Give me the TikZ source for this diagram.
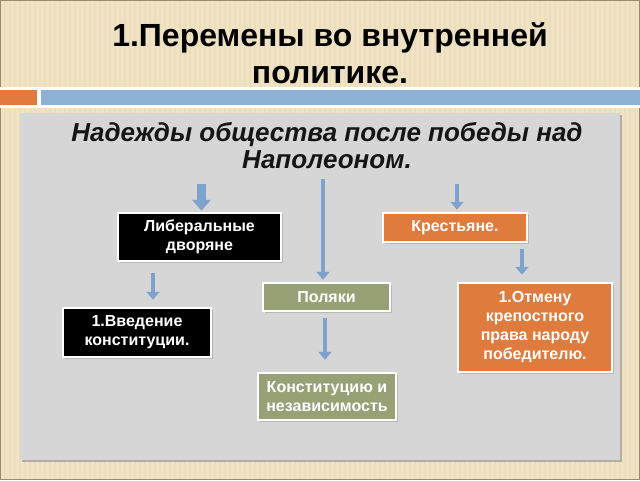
\documentclass[tikz,border=0pt]{standalone}
\usepackage{fontspec}
\setmainfont{Liberation Sans}
\usetikzlibrary{arrows.meta,calc,shadows}
\definecolor{beige}{HTML}{F0E3C4}
\definecolor{stripe}{HTML}{ECDEBD}
\definecolor{frameline}{HTML}{9C8A6A}
\definecolor{panelgray}{HTML}{D6D6D6}
\definecolor{barorange}{HTML}{E07A3E}
\definecolor{barblue}{HTML}{8DB0D4}
\definecolor{boxorange}{HTML}{E07B3E}
\definecolor{boxolive}{HTML}{98A176}
\definecolor{arrowblue}{HTML}{7FA2CC}
\definecolor{subtext}{HTML}{151515}
\tikzset{
  boxbase/.style={draw=gray!55, double=white, double distance=1.6pt, line width=0.5pt,
    inner sep=0pt, align=center, text=white, font=\bfseries\fontsize{16}{19}\selectfont,
    drop shadow={opacity=0.35, shadow xshift=1.5pt, shadow yshift=-1.5pt}},
  blackbox/.style={boxbase, fill=black},
  orangebox/.style={boxbase, fill=boxorange},
  olivebox/.style={boxbase, fill=boxolive},
  barrow/.style={draw=arrowblue, line width=4pt,
    -{Triangle[width=13pt,length=8pt]}},
  bigarrow/.style={draw=arrowblue, line width=9pt,
    -{Triangle[width=18pt,length=11pt]}},
}
\begin{document}
\begin{tikzpicture}[x=1pt,y=-1pt]
\useasboundingbox (0,0) rectangle (640,480);
% background
\fill[beige] (0,0) rectangle (640,480);
\foreach \i in {0,5,...,640} \draw[stripe, line width=1.2pt] (\i,0) -- (\i,480);
\draw[frameline, line width=1pt] (0.5,0.5) rectangle (639.5,479.5);
% bars
\fill[white] (0,87) rectangle (640,108);
\fill[barorange] (0,90) rectangle (37,105);
\fill[barblue] (41,90) rectangle (640,105);
% panel
\fill[black!45, opacity=0.6] (22,115) rectangle (622,462);
\fill[panelgray] (20,113) rectangle (620,460);
% title
\node (title) at (330,53) [align=center, font=\bfseries\fontsize{32}{37}\selectfont]
  {1.Перемены во внутренней\\политике.};
% subtitle
\node (sub) at (327,146) [align=center, text=subtext, font=\bfseries\itshape\fontsize{26}{27}\selectfont]
  {Надежды общества после победы над\\Наполеоном.};
% boxes
\node[blackbox, minimum width=163pt, minimum height=48pt] (lib) at (199.5,237) {Либеральные\\дворяне};
\node[orangebox, minimum width=144pt, minimum height=29pt] (kres) at (455,227.5) {Крестьяне.};
\node[olivebox, minimum width=127pt, minimum height=28pt] (pol) at (326.5,297) {Поляки};
\node[blackbox, minimum width=148pt, minimum height=49pt] (vved) at (137,332.5) {1.Введение\\конституции.};
\node[olivebox, minimum width=138pt, minimum height=47pt] (konst) at (327,396.5) {Конституцию и\\независимость};
\node[orangebox, minimum width=154pt, minimum height=89pt] (otm) at (535,327.5) {1.Отмену\\крепостного\\права народу\\победителю.};
% arrow start points
\coordinate (a1) at (201.5,184);
\coordinate (a2) at (323,179);
\coordinate (a3) at (457,184);
\coordinate (a4) at (522,249);
\coordinate (a5) at (153,273);
\coordinate (a6) at (325,318);
% arrows
\draw[bigarrow, shorten >=2pt] (a1) -- (a1 |- lib.north);
\draw[barrow, shorten >=3pt] (a2) -- (a2 |- pol.north);
\draw[barrow, shorten >=3pt] (a3) -- (a3 |- kres.north);
\draw[barrow, shorten >=8pt] (a4) -- (a4 |- otm.north);
\draw[barrow, shorten >=8pt] (a5) -- (a5 |- vved.north);
\draw[barrow, shorten >=13pt] (a6) -- (a6 |- konst.north);
\end{tikzpicture}
\end{document}
